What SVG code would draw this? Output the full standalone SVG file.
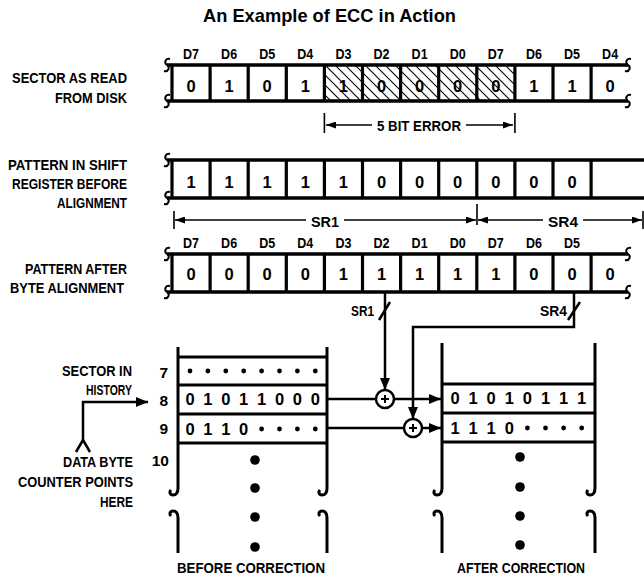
<svg xmlns="http://www.w3.org/2000/svg" width="644" height="575" viewBox="0 0 644 575">
<style>
text{font-family:"Liberation Sans",Arial,sans-serif;font-weight:bold;fill:#000}
.lbl{font-size:15.5px}
.dl{font-size:15.5px;text-anchor:middle}
.dg{font-size:16.5px;text-anchor:middle}
.ttl{font-size:19px}
.edge{stroke:#000;stroke-width:3.5;fill:none}
.div{stroke:#000;stroke-width:3.2;fill:none}
.sq{stroke:#000;stroke-width:2;fill:none}
.box{stroke:#000;stroke-width:3;fill:none}
.con{stroke:#000;stroke-width:2.5;fill:none}
.dim{stroke:#000;stroke-width:1.6;fill:none}
.dot{fill:#000}
</style>
<defs>
<pattern id="hatch" patternUnits="userSpaceOnUse" width="10" height="10"><path d="M-2,-2 L12,12 M-12,-2 L2,12 M8,-2 L22,12" stroke="#000" stroke-width="1.1"/></pattern>
<path id="sq" d="M3,-6 C-2,-7 -3,-2 0,0 C3,2 2,7 -3,6" class="sq"/>
<marker id="ah" viewBox="0 0 12 10" refX="12" refY="5" markerWidth="12" markerHeight="10" markerUnits="userSpaceOnUse" orient="auto"><path d="M0,0 L12,5 L0,10 z"/></marker>
<marker id="ahs" viewBox="0 0 10 7" refX="10" refY="3.5" markerWidth="10" markerHeight="7" markerUnits="userSpaceOnUse" orient="auto-start-reverse"><path d="M0,0 L10,3.5 L0,7 z"/></marker>
</defs>

<text class="ttl" x="203" y="22" textLength="253" lengthAdjust="spacingAndGlyphs">An Example of ECC in Action</text>

<!-- Row 1 -->
<g id="row-sector-read">
<text class="lbl" x="12" y="83" textLength="115" lengthAdjust="spacingAndGlyphs">SECTOR AS READ</text>
<text class="lbl" x="55" y="103" textLength="72" lengthAdjust="spacingAndGlyphs">FROM DISK</text>
<rect x="324.4" y="65" width="190.5" height="36" fill="url(#hatch)"/>
<path class="edge" d="M167,65 H628 M167,101 H628"/>
<path class="div" d="M172,65 V101 M210.1,65 V101 M248.2,65 V101 M286.3,65 V101 M324.4,65 V101 M362.5,65 V101 M400.6,65 V101 M438.7,65 V101 M476.8,65 V101 M514.9,65 V101 M553,65 V101 M591.1,65 V101"/>
<use href="#sq" x="167" y="65"/><use href="#sq" x="167" y="101"/><use href="#sq" x="628" y="65"/><use href="#sq" x="628" y="101"/>
<g class="dl">
<text x="191" y="59" textLength="16" lengthAdjust="spacingAndGlyphs">D7</text>
<text x="229.1" y="59" textLength="16" lengthAdjust="spacingAndGlyphs">D6</text>
<text x="267.2" y="59" textLength="16" lengthAdjust="spacingAndGlyphs">D5</text>
<text x="305.3" y="59" textLength="16" lengthAdjust="spacingAndGlyphs">D4</text>
<text x="343.4" y="59" textLength="16" lengthAdjust="spacingAndGlyphs">D3</text>
<text x="381.5" y="59" textLength="16" lengthAdjust="spacingAndGlyphs">D2</text>
<text x="419.6" y="59" textLength="16" lengthAdjust="spacingAndGlyphs">D1</text>
<text x="457.7" y="59" textLength="16" lengthAdjust="spacingAndGlyphs">D0</text>
<text x="495.8" y="59" textLength="16" lengthAdjust="spacingAndGlyphs">D7</text>
<text x="533.9" y="59" textLength="16" lengthAdjust="spacingAndGlyphs">D6</text>
<text x="572" y="59" textLength="16" lengthAdjust="spacingAndGlyphs">D5</text>
<text x="610.1" y="59" textLength="16" lengthAdjust="spacingAndGlyphs">D4</text>
</g>
<g class="dg">
<text x="191" y="92">0</text><text x="229.1" y="92">1</text><text x="267.2" y="92">0</text><text x="305.3" y="92">1</text>
<text x="343.4" y="92">1</text><text x="381.5" y="92">0</text><text x="419.6" y="92">0</text><text x="457.7" y="92">0</text>
<text x="495.8" y="92">0</text><text x="533.9" y="92">1</text><text x="572" y="92">1</text><text x="610.1" y="92">0</text>
</g>
<text class="lbl" x="377" y="131" textLength="84" lengthAdjust="spacingAndGlyphs">5 BIT ERROR</text>
</g>

<!-- Row 2 -->
<g id="row-shift-register">
<text class="lbl" x="8" y="170" textLength="119" lengthAdjust="spacingAndGlyphs">PATTERN IN SHIFT</text>
<text class="lbl" x="12" y="189" textLength="115" lengthAdjust="spacingAndGlyphs">REGISTER BEFORE</text>
<text class="lbl" x="57" y="208" textLength="70" lengthAdjust="spacingAndGlyphs">ALIGNMENT</text>
<path class="edge" d="M167,160 H644 M167,198 H644"/>
<path class="div" d="M172,160 V198 M210.1,160 V198 M248.2,160 V198 M286.3,160 V198 M324.4,160 V198 M362.5,160 V198 M400.6,160 V198 M438.7,160 V198 M476.8,160 V198 M514.9,160 V198 M553,160 V198 M591.1,160 V198"/>
<use href="#sq" x="167" y="160"/><use href="#sq" x="167" y="198"/>
<g class="dg">
<text x="191" y="188">1</text><text x="229.1" y="188">1</text><text x="267.2" y="188">1</text><text x="305.3" y="188">1</text>
<text x="343.4" y="188">1</text><text x="381.5" y="188">0</text><text x="419.6" y="188">0</text><text x="457.7" y="188">0</text>
<text x="495.8" y="188">0</text><text x="533.9" y="188">0</text><text x="572" y="188">0</text>
</g>
<text class="lbl" x="311" y="227" textLength="28" lengthAdjust="spacingAndGlyphs">SR1</text>
<text class="lbl" x="548" y="227" textLength="30" lengthAdjust="spacingAndGlyphs">SR4</text>
</g>

<!-- Row 3 -->
<g id="row-byte-aligned">
<text class="lbl" x="25" y="274" textLength="102" lengthAdjust="spacingAndGlyphs">PATTERN AFTER</text>
<text class="lbl" x="10" y="293" textLength="114" lengthAdjust="spacingAndGlyphs">BYTE ALIGNMENT</text>
<path class="edge" d="M167,254 H628 M167,292 H628"/>
<path class="div" d="M172,254 V292 M210.1,254 V292 M248.2,254 V292 M286.3,254 V292 M324.4,254 V292 M362.5,254 V292 M400.6,254 V292 M438.7,254 V292 M476.8,254 V292 M514.9,254 V292 M553,254 V292 M591.1,254 V292"/>
<use href="#sq" x="167" y="254"/><use href="#sq" x="167" y="292"/><use href="#sq" x="628" y="254"/><use href="#sq" x="628" y="292"/>
<g class="dl">
<text x="191" y="248" textLength="16" lengthAdjust="spacingAndGlyphs">D7</text>
<text x="229.1" y="248" textLength="16" lengthAdjust="spacingAndGlyphs">D6</text>
<text x="267.2" y="248" textLength="16" lengthAdjust="spacingAndGlyphs">D5</text>
<text x="305.3" y="248" textLength="16" lengthAdjust="spacingAndGlyphs">D4</text>
<text x="343.4" y="248" textLength="16" lengthAdjust="spacingAndGlyphs">D3</text>
<text x="381.5" y="248" textLength="16" lengthAdjust="spacingAndGlyphs">D2</text>
<text x="419.6" y="248" textLength="16" lengthAdjust="spacingAndGlyphs">D1</text>
<text x="457.7" y="248" textLength="16" lengthAdjust="spacingAndGlyphs">D0</text>
<text x="495.8" y="248" textLength="16" lengthAdjust="spacingAndGlyphs">D7</text>
<text x="533.9" y="248" textLength="16" lengthAdjust="spacingAndGlyphs">D6</text>
<text x="572" y="248" textLength="16" lengthAdjust="spacingAndGlyphs">D5</text>
</g>
<g class="dg">
<text x="191" y="280">0</text><text x="229.1" y="280">0</text><text x="267.2" y="280">0</text><text x="305.3" y="280">0</text>
<text x="343.4" y="280">1</text><text x="381.5" y="280">1</text><text x="419.6" y="280">1</text><text x="457.7" y="280">1</text>
<text x="495.8" y="280">1</text><text x="533.9" y="280">0</text><text x="572" y="280">0</text><text x="610.1" y="280">0</text>
</g>
<text class="lbl" x="351" y="316" textLength="23" lengthAdjust="spacingAndGlyphs">SR1</text>
<text class="lbl" x="540" y="316" textLength="27" lengthAdjust="spacingAndGlyphs">SR4</text>
</g>

<!-- Before correction -->
<g id="before-correction">
<text class="lbl" x="62" y="376" textLength="70" lengthAdjust="spacingAndGlyphs">SECTOR IN</text>
<text class="lbl" x="86" y="395" textLength="46" lengthAdjust="spacingAndGlyphs">HISTORY</text>
<text class="lbl" x="168" y="378" text-anchor="end">7</text>
<text class="lbl" x="168" y="406" text-anchor="end">8</text>
<text class="lbl" x="168" y="434" text-anchor="end">9</text>
<text class="lbl" x="169" y="466" text-anchor="end">10</text>
<path class="box" d="M178,347 V488 c0,5 -2,7 -5,7 c-3,0 -4,-3 -2,-5 M178,553 V518 c0,-5 -2,-7 -5,-7 c-3,0 -4,3 -2,5"/>
<path class="box" d="M327,347 V488 c0,5 -2,7 -5,7 c-3,0 -4,-3 -2,-5 M327,553 V518 c0,-5 -2,-7 -5,-7 c-3,0 -4,3 -2,5"/>
<path class="box" d="M178,357 H327 M178,385 H327 M178,414 H327 M178,443 H327"/>
<g class="dot">
<circle cx="190" cy="371" r="2.4"/><circle cx="207.9" cy="371" r="2.4"/><circle cx="225.8" cy="371" r="2.4"/><circle cx="243.7" cy="371" r="2.4"/>
<circle cx="261.6" cy="371" r="2.4"/><circle cx="279.5" cy="371" r="2.4"/><circle cx="297.4" cy="371" r="2.4"/><circle cx="315.3" cy="371" r="2.4"/>
<circle cx="261.6" cy="429" r="2.4"/><circle cx="279.5" cy="429" r="2.4"/><circle cx="297.4" cy="429" r="2.4"/><circle cx="315.3" cy="429" r="2.4"/>
<circle cx="255" cy="460" r="4.8"/><circle cx="255" cy="488" r="4.8"/><circle cx="255" cy="517" r="4.8"/><circle cx="255" cy="547" r="4.8"/>
</g>
<g class="dg">
<text x="190" y="405">0</text><text x="207.9" y="405">1</text><text x="225.8" y="405">0</text><text x="243.7" y="405">1</text>
<text x="261.6" y="405">1</text><text x="279.5" y="405">0</text><text x="297.4" y="405">0</text><text x="315.3" y="405">0</text>
<text x="190" y="435">0</text><text x="207.9" y="435">1</text><text x="225.8" y="435">1</text><text x="243.7" y="435">0</text>
</g>
<text class="lbl" x="177" y="573" textLength="148" lengthAdjust="spacingAndGlyphs">BEFORE CORRECTION</text>
</g>

<!-- Data byte counter -->
<g id="data-byte-counter">
<text class="lbl" x="63" y="467" textLength="70" lengthAdjust="spacingAndGlyphs">DATA BYTE</text>
<text class="lbl" x="18" y="487" textLength="115" lengthAdjust="spacingAndGlyphs">COUNTER POINTS</text>
<text class="lbl" x="100" y="507" textLength="33" lengthAdjust="spacingAndGlyphs">HERE</text>
<path class="con" d="M83,440 L76,452 M83,440 L90,452"/>
</g>

<!-- XOR nodes -->
<g id="xor-1">
<circle cx="385" cy="399" r="9" fill="#fff" stroke="#000" stroke-width="2.5"/>
<path d="M385,395 V403 M381,399 H389" stroke="#000" stroke-width="2"/>
</g>
<g id="xor-2">
<circle cx="413" cy="428" r="9" fill="#fff" stroke="#000" stroke-width="2.5"/>
<path d="M413,424 V432 M409,428 H417" stroke="#000" stroke-width="2"/>
</g>

<!-- After correction -->
<g id="after-correction">
<path class="box" d="M442,343 V488 c0,5 -2,7 -5,7 c-3,0 -4,-3 -2,-5 M442,553 V518 c0,-5 -2,-7 -5,-7 c-3,0 -4,3 -2,5"/>
<path class="box" d="M595,343 V488 c0,5 -2,7 -5,7 c-3,0 -4,-3 -2,-5 M595,553 V518 c0,-5 -2,-7 -5,-7 c-3,0 -4,3 -2,5"/>
<path class="box" d="M442,384 H595 M442,413 H595 M442,442 H595"/>
<g class="dg">
<text x="455" y="404">0</text><text x="473.1" y="404">1</text><text x="491.2" y="404">0</text><text x="509.3" y="404">1</text>
<text x="527.4" y="404">0</text><text x="545.5" y="404">1</text><text x="563.6" y="404">1</text><text x="581.7" y="404">1</text>
<text x="455" y="434">1</text><text x="473.1" y="434">1</text><text x="491.2" y="434">1</text><text x="509.3" y="434">0</text>
</g>
<g class="dot">
<circle cx="527.4" cy="428" r="2.4"/><circle cx="545.5" cy="428" r="2.4"/><circle cx="563.6" cy="428" r="2.4"/><circle cx="581.7" cy="428" r="2.4"/>
<circle cx="520" cy="457" r="4.8"/><circle cx="520" cy="487" r="4.8"/><circle cx="520" cy="516" r="4.8"/><circle cx="520" cy="545" r="4.8"/>
</g>
<text class="lbl" x="457" y="573" textLength="128" lengthAdjust="spacingAndGlyphs">AFTER CORRECTION</text>
</g>

<!-- Connectors -->
<g id="connectors">
<path class="dim" d="M324.4,113 V133 M514.9,113 V133"/>
<path class="dim" d="M326,125 H372" marker-start="url(#ahs)"/>
<path class="dim" d="M466,125 H513" marker-end="url(#ahs)"/>
<path class="dim" d="M174,211 V229 M477,204 V225 M643,211 V229"/>
<path class="dim" d="M175,220 H306" marker-start="url(#ahs)"/>
<path class="dim" d="M344,220 H476" marker-end="url(#ahs)"/>
<path class="dim" d="M478,220 H543" marker-start="url(#ahs)"/>
<path class="dim" d="M583,220 H642" marker-end="url(#ahs)"/>
<path class="con" d="M385,292 V390" marker-end="url(#ah)"/>
<path class="con" d="M379,320 L390,302"/>
<path class="con" d="M574,292 V327 H413 V419" marker-end="url(#ah)"/>
<path class="con" d="M568,320 L580,302"/>
<path class="con" d="M327,399 H376"/>
<path class="con" d="M394,399 H441" marker-end="url(#ah)"/>
<path class="con" d="M327,428 H404"/>
<path class="con" d="M422,428 H441" marker-end="url(#ah)"/>
<path class="con" d="M83,440 V402 H148" marker-end="url(#ah)"/>
</g>
</svg>
